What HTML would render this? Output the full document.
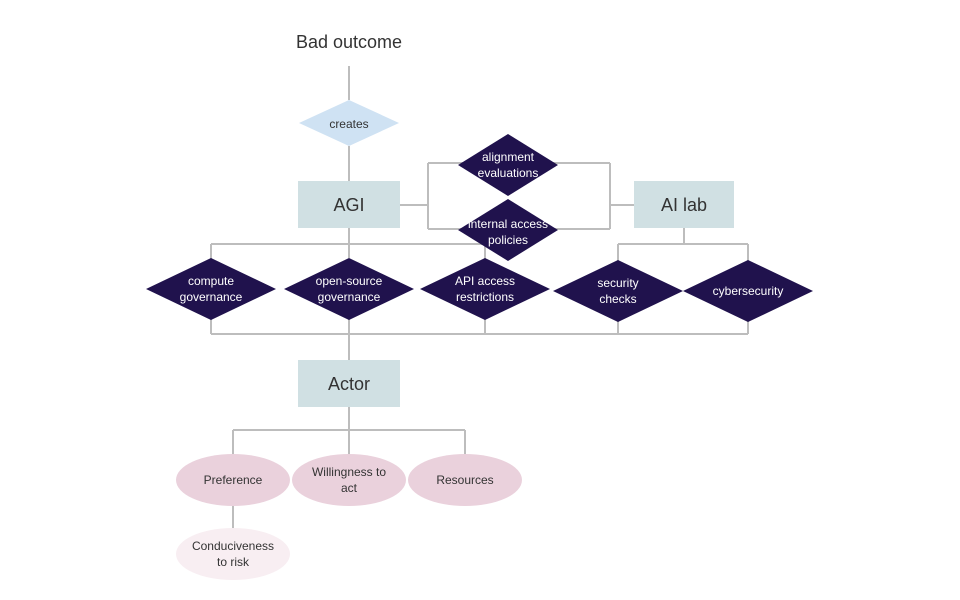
<!DOCTYPE html>
<html><head><style>body{margin:0;background:#fff}svg{display:block}</style></head><body>
<svg width="960" height="600" xmlns="http://www.w3.org/2000/svg" font-family="Liberation Sans, sans-serif">
<g stroke="#bdbdbd" stroke-width="2" fill="none">
<path d="M349 66V100M349 146V181M400 205H428M428 163V229M428 163H470M428 229H470M546 163H610M546 229H610M610 163V229M610 205H634"/>
<path d="M349 228V258M211 244H485M211 244V262M485 244V262M684 228V244M618 244H748M618 244V264M748 244V264"/>
<path d="M211 316V334M349 316V360M485 316V334M618 318V334M748 318V334M211 334H748"/>
<path d="M349 407V430M233 430H465M233 430V455M465 430V455M349 430V455M233 506V530"/>
</g>
<text x="349" y="48" font-size="18" text-anchor="middle" fill="#333">Bad outcome</text>
<polygon points="299,123 349,100 399,123 349,146" fill="#cfe2f3"/>
<text x="349" y="128" font-size="12" text-anchor="middle" fill="#333">creates</text>
<rect x="298" y="181" width="102" height="47" fill="#d0e0e3"/>
<text x="349" y="211" font-size="18" text-anchor="middle" fill="#333">AGI</text>
<rect x="634" y="181" width="100" height="47" fill="#d0e0e3"/>
<text x="684" y="211" font-size="18" text-anchor="middle" fill="#333">AI lab</text>
<rect x="298" y="360" width="102" height="47" fill="#d0e0e3"/>
<text x="349" y="390" font-size="18" text-anchor="middle" fill="#333">Actor</text>
<g fill="#20124d">
<polygon points="458,165 508,134 558,165 508,196"/>
<polygon points="458,230 508,199 558,230 508,261"/>
<polygon points="146,289 211,258 276,289 211,320"/>
<polygon points="284,289 349,258 414,289 349,320"/>
<polygon points="420,289 485,258 550,289 485,320"/>
<polygon points="553,291 618,260 683,291 618,322"/>
<polygon points="683,291 748,260 813,291 748,322"/>
</g>
<g fill="#fff" font-size="12" text-anchor="middle">
<text x="508" y="161">alignment</text><text x="508" y="177">evaluations</text>
<text x="508" y="228">internal access</text><text x="508" y="244">policies</text>
<text x="211" y="285">compute</text><text x="211" y="301">governance</text>
<text x="349" y="285">open-source</text><text x="349" y="301">governance</text>
<text x="485" y="285">API access</text><text x="485" y="301">restrictions</text>
<text x="618" y="287">security</text><text x="618" y="303">checks</text>
<text x="748" y="295">cybersecurity</text>
</g>
<g fill="#ead1dc">
<ellipse cx="233" cy="480" rx="57" ry="26"/>
<ellipse cx="349" cy="480" rx="57" ry="26"/>
<ellipse cx="465" cy="480" rx="57" ry="26"/>
</g>
<ellipse cx="233" cy="554" rx="57" ry="26" fill="#f8eef2"/>
<g fill="#333" font-size="12" text-anchor="middle">
<text x="233" y="484">Preference</text>
<text x="349" y="476">Willingness to</text><text x="349" y="492">act</text>
<text x="465" y="484">Resources</text>
<text x="233" y="550">Conduciveness</text><text x="233" y="566">to risk</text>
</g>
</svg>
</body></html>
